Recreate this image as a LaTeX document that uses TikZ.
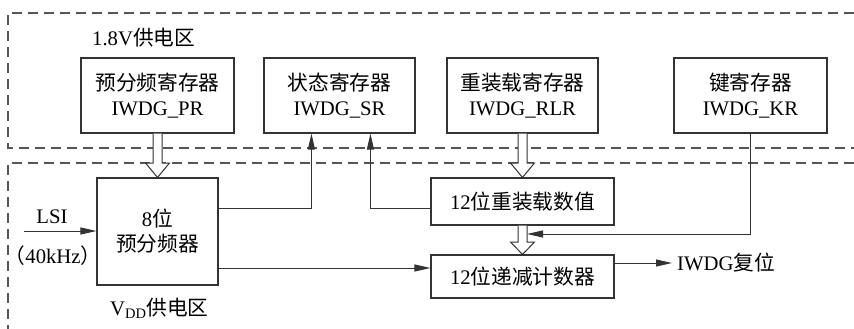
\documentclass[tikz,border=0pt]{standalone}
\usepackage{fontspec}
\setmainfont{Liberation Serif}
\newfontfamily\cjk{Noto Sans CJK SC}[Scale=1.0]
\usetikzlibrary{arrows.meta,calc}
\definecolor{lc}{HTML}{333333}
\definecolor{dc}{HTML}{555555}
\begin{document}
\begin{tikzpicture}[x=1pt,y=-1pt,
  every node/.style={font=\fontsize{20.7}{25}\selectfont, inner sep=0pt, align=center},
  regbox/.style={draw=lc, line width=1.1pt, rectangle},
  zone/.style={draw=dc, line width=1.1pt, dash pattern=on 10pt off 6pt},
  conn/.style={draw=lc, line width=1pt},
  tip/.style={-{Triangle[length=16pt,width=7pt]}},
  hollow/.style={draw=lc, line width=1pt, fill=white}]
\useasboundingbox (0,0) rectangle (854,329);
% zones
\draw[zone] (854,13) -- (8,13) -- (8,148) -- (854,148);
\draw[zone] (854,163) -- (8,163) -- (8,329);
% boxes
\node[regbox, minimum width=153pt, minimum height=75pt] (pr) at (157.5,95.5) {{\cjk 预分频寄存器}\\IWDG\_PR};
\node[regbox, minimum width=151pt, minimum height=75pt] (sr) at (339.5,95.5) {{\cjk 状态寄存器}\\IWDG\_SR};
\node[regbox, minimum width=151pt, minimum height=75pt] (rlr) at (522.5,95.5) {{\cjk 重装载寄存器}\\IWDG\_RLR};
\node[regbox, minimum width=153pt, minimum height=75pt] (kr) at (750.5,95.5) {{\cjk 键寄存器}\\IWDG\_KR};
\node[regbox, minimum width=121pt, minimum height=107pt] (pre) at (157.5,231.5) {8{\cjk 位}\\{\cjk 预分频器}};
\node[regbox, minimum width=183pt, minimum height=47pt] (rv) at (522.5,201.5) {12{\cjk 位重装载数值}};
\node[regbox, minimum width=183pt, minimum height=43pt] (cnt) at (522.5,276.5) {12{\cjk 位递减计数器}};
% labels
\node[anchor=west] (z1) at (92,38) {1.8V{\cjk 供电区}};
\node (lsi) at (52,217) {LSI};
\node (khz) at (53,256) {{\cjk （}40kHz{\cjk ）}};
\node[anchor=west] (z2) at (110,308) {V\textsubscript{DD}{\cjk 供电区}};
\node[anchor=west] (rst) at (677,263) {IWDG{\cjk 复位}};
% hollow arrows
\draw[hollow] ($(pr.south)+(-4.5,0)$) -- (153,163) -- (145.5,163) -- (pre.north) -- (169.5,163) -- (162,163) -- ($(pr.south)+(4.5,0)$);
\draw[hollow] ($(rlr.south)+(-4.5,0)$) -- (518,163) -- (510.5,163) -- (rv.north) -- (534.5,163) -- (527,163) -- ($(rlr.south)+(4.5,0)$);
\draw[hollow] ($(rv.south)+(-4.5,0)$) -- (518,242) -- (510.5,242) -- (cnt.north) -- (534.5,242) -- (527,242) -- ($(rv.south)+(4.5,0)$);
% connectors
\coordinate (lsiin) at (24,231);
\draw[conn, tip] (lsiin) -- (pre.west |- lsiin);
\draw[conn, tip] (pre.east |- 0,208) -| ($(sr.south west)+(48,0)$);
\draw[conn, tip] (rv.west |- 0,208) -| ($(sr.south west)+(107,0)$);
\draw[conn, tip] (pre.east |- 0,268) -- (cnt.west |- 0,268);
\coordinate (kin) at (527,234);
\draw[conn, tip] (kr.south) |- (kin);
\draw[conn, tip] (cnt.east |- rst.west) -- ($(rst.west)+(-5,0)$);
\end{tikzpicture}
\end{document}
